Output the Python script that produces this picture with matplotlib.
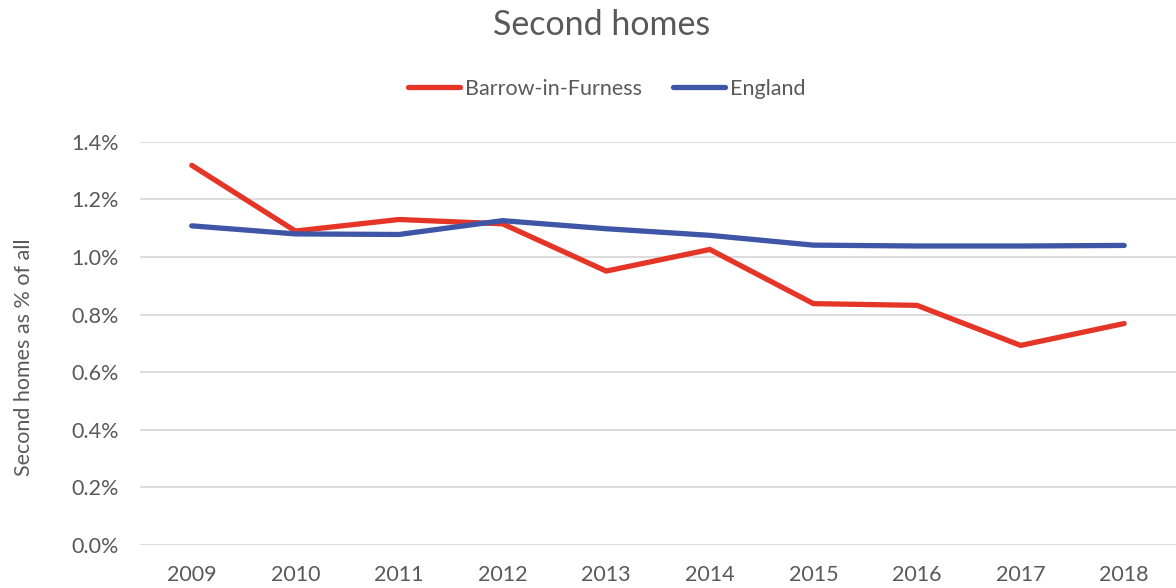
import matplotlib.pyplot as plt
from matplotlib.ticker import FuncFormatter

years = ['2009', '2010', '2011', '2012', '2013', '2014', '2015', '2016', '2017', '2018']
barrow = [1.318, 1.090, 1.130, 1.115, 0.951, 1.026, 0.838, 0.832, 0.693, 0.769]
england = [1.108, 1.080, 1.078, 1.126, 1.098, 1.075, 1.041, 1.038, 1.038, 1.040]

text_grey = '#595959'
plt.rcParams['font.family'] = ['Lato', 'DejaVu Sans']

fig = plt.figure(figsize=(11.76, 5.88), dpi=100)
ax = fig.add_axes([0.119, 0.073, 0.881, 0.686])

x = range(len(years))
ax.plot(x, barrow, color='#E53527', linewidth=3.8, solid_capstyle='round',
        solid_joinstyle='miter', label='Barrow-in-Furness', zorder=3)
ax.plot(x, england, color='#3F55A5', linewidth=3.8, solid_capstyle='round',
        solid_joinstyle='miter', label='England', zorder=3)

ax.set_xlim(-0.5, len(years) - 0.5)
ax.set_ylim(0, 1.4)
ax.set_yticks([0.0, 0.2, 0.4, 0.6, 0.8, 1.0, 1.2, 1.4])
ax.yaxis.set_major_formatter(FuncFormatter(lambda v, p: f'{v:.1f}%'))
ax.set_xticks(list(x))
ax.set_xticklabels(years)

ax.grid(axis='y', color='#d9d9d9', linewidth=1.3, zorder=0)
for s in ax.spines.values():
    s.set_visible(False)
ax.tick_params(length=0, labelsize=15.5, colors=text_grey)
ax.tick_params(axis='y', pad=15)
ax.tick_params(axis='x', pad=14)

ax.set_ylabel('Second homes as % of all', fontsize=15.5, color=text_grey, labelpad=28)
ax.yaxis.set_label_coords(-0.1025, 0.465)

fig.text(0.512, 0.957, 'Second homes', ha='center', va='center', fontsize=24.5, color=text_grey)
fig.legend(loc='center', bbox_to_anchor=(0.516, 0.849), ncol=2, frameon=False,
           fontsize=15.5, labelcolor=text_grey, handlelength=2.4, handletextpad=0.25,
           columnspacing=1.45)

fig.savefig('out.png', dpi=100)
